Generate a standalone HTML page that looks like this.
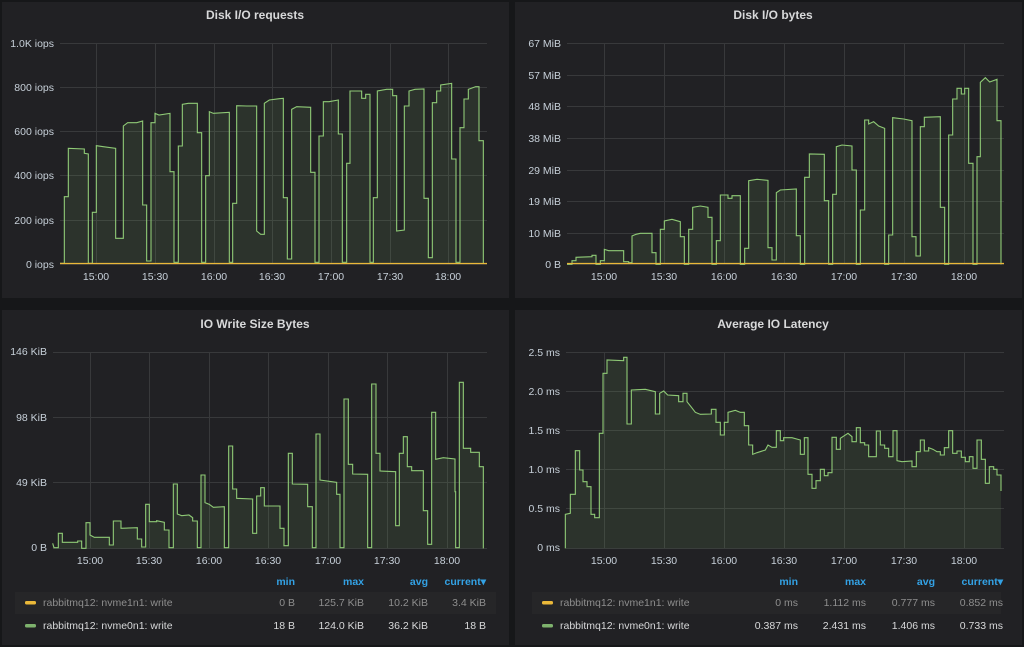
<!DOCTYPE html>
<html><head><meta charset="utf-8"><style>
html,body{margin:0;padding:0;background:#161719;width:1024px;height:647px;overflow:hidden}
svg{display:block;font-family:"Liberation Sans",sans-serif}
.t{fill:#d8d9da;font-size:12px;font-weight:bold;text-anchor:middle}
.ax{fill:#c7d0d9;font-size:10.5px}
.yl{text-anchor:end}
.xl{text-anchor:middle}
.g{stroke:#38393b;stroke-width:1}
.h{fill:#33a2e5;font-size:10.5px;font-weight:bold;text-anchor:end}
.v{fill:#d8d9da;font-size:10.5px;text-anchor:end}
.vd{fill:#8e8e8e;font-size:10.5px;text-anchor:end}
.n{fill:#d8d9da;font-size:10.5px}
.nd{fill:#8e8e8e;font-size:10.5px}
.ln{fill:none;stroke:#8fca76;stroke-width:3.3;stroke-linejoin:miter}
.fl{fill:rgba(126,178,109,0.12);stroke:none}
</style></head><body>
<svg width="1024" height="647" viewBox="0 0 1024 647">
<rect x="2" y="2" width="507" height="296" fill="#212124"/>
<rect x="515" y="2" width="507" height="296" fill="#212124"/>
<rect x="2" y="310" width="507" height="335" fill="#212124"/>
<rect x="515" y="310" width="507" height="335" fill="#212124"/>

<!-- Panel 1 -->
<text class="t" x="255" y="19">Disk I/O requests</text>
<g class="g">
<line x1="60" x2="487" y1="43.5" y2="43.5"/><line x1="60" x2="487" y1="87.5" y2="87.5"/><line x1="60" x2="487" y1="131.5" y2="131.5"/><line x1="60" x2="487" y1="175.5" y2="175.5"/><line x1="60" x2="487" y1="220.5" y2="220.5"/><line x1="60" x2="487" y1="264.5" y2="264.5"/>
<line x1="96.5" x2="96.5" y1="43" y2="264"/><line x1="155.5" x2="155.5" y1="43" y2="264"/><line x1="214.5" x2="214.5" y1="43" y2="264"/><line x1="272.5" x2="272.5" y1="43" y2="264"/><line x1="331.5" x2="331.5" y1="43" y2="264"/><line x1="390.5" x2="390.5" y1="43" y2="264"/><line x1="448.5" x2="448.5" y1="43" y2="264"/>
</g>
<g class="ax yl"><text x="54" y="47">1.0K iops</text><text x="54" y="91">800 iops</text><text x="54" y="135">600 iops</text><text x="54" y="179">400 iops</text><text x="54" y="224">200 iops</text><text x="54" y="268">0 iops</text></g>
<g class="ax xl"><text x="96" y="280">15:00</text><text x="155" y="280">15:30</text><text x="214" y="280">16:00</text><text x="272" y="280">16:30</text><text x="331" y="280">17:00</text><text x="390" y="280">17:30</text><text x="448" y="280">18:00</text></g>
<g transform="scale(0.33333)" class="s" data-b="790" data-d="180,790 193,790 193,590 205,590 205,445 253,447 253,460 265,462 265,790 277,790 277,637 289,637 289,437 310,440 347,445 347,715 370,715 370,378 383,368 410,368 428,363 428,615 440,615 440,783 453,783 453,368 465,368 465,340 477,345 510,340 510,515 522,515 522,787 535,787 535,438 547,438 547,313 565,310 592,310 592,398 605,398 605,787 617,787 617,527 628,527 628,335 640,340 688,337 688,787 698,787 698,610 710,610 710,317 740,318 770,318 770,693 782,703 793,703 793,310 808,300 838,296 850,295 850,593 862,593 862,777 875,777 875,328 890,320 932,322 932,517 945,517 945,787 957,787 957,408 970,408 970,305 987,305 1015,300 1015,402 1027,402 1027,787 1040,787 1040,490 1050,490 1050,273 1085,273 1085,295 1097,295 1097,283 1110,283 1110,787 1120,787 1120,593 1132,593 1132,273 1160,268 1178,268 1178,287 1190,287 1190,693 1213,690 1213,318 1227,318 1227,273 1245,268 1272,267 1272,595 1285,595 1285,773 1297,773 1297,308 1310,308 1310,273 1322,273 1322,255 1355,250 1355,477 1368,477 1368,787 1380,787 1380,383 1392,383 1392,297 1405,297 1405,268 1427,260 1437,260 1437,422 1450,422 1450,790"></g>
<line x1="60" x2="487" y1="263.5" y2="263.5" stroke="#eab839" stroke-width="1.2"/>

<!-- Panel 2 -->
<text class="t" x="773" y="19">Disk I/O bytes</text>
<g class="g">
<line x1="567" x2="1004" y1="43.5" y2="43.5"/><line x1="567" x2="1004" y1="75.5" y2="75.5"/><line x1="567" x2="1004" y1="106.5" y2="106.5"/><line x1="567" x2="1004" y1="138.5" y2="138.5"/><line x1="567" x2="1004" y1="170.5" y2="170.5"/><line x1="567" x2="1004" y1="201.5" y2="201.5"/><line x1="567" x2="1004" y1="233.5" y2="233.5"/><line x1="567" x2="1004" y1="264.5" y2="264.5"/>
<line x1="604.5" x2="604.5" y1="43" y2="264"/><line x1="664.5" x2="664.5" y1="43" y2="264"/><line x1="724.5" x2="724.5" y1="43" y2="264"/><line x1="784.5" x2="784.5" y1="43" y2="264"/><line x1="844.5" x2="844.5" y1="43" y2="264"/><line x1="904.5" x2="904.5" y1="43" y2="264"/><line x1="964.5" x2="964.5" y1="43" y2="264"/>
</g>
<g class="ax yl"><text x="561" y="47">67 MiB</text><text x="561" y="79">57 MiB</text><text x="561" y="110">48 MiB</text><text x="561" y="142">38 MiB</text><text x="561" y="174">29 MiB</text><text x="561" y="205">19 MiB</text><text x="561" y="237">10 MiB</text><text x="561" y="268">0 B</text></g>
<g class="ax xl"><text x="604" y="280">15:00</text><text x="664" y="280">15:30</text><text x="724" y="280">16:00</text><text x="784" y="280">16:30</text><text x="844" y="280">17:00</text><text x="904" y="280">17:30</text><text x="964" y="280">18:00</text></g>
<g transform="translate(512,0) scale(0.33333)" class="s" data-b="793" data-d="165,793 180,793 180,782 192,782 192,772 240,770 240,766 252,766 252,793 265,793 265,782 277,782 277,748 290,752 335,752 335,785 350,785 350,788 360,788 360,708 372,703 385,700 420,700 420,758 432,758 432,793 445,793 445,688 457,688 457,663 480,658 505,665 505,710 517,710 517,793 530,793 530,688 542,688 542,622 565,618 588,622 588,652 600,652 600,793 613,793 613,722 625,722 625,585 648,585 648,595 660,595 660,587 685,587 685,793 698,793 698,745 710,745 710,542 735,538 768,541 768,743 780,743 780,780 793,780 793,578 805,570 853,567 853,707 865,707 865,793 878,793 878,532 892,532 892,462 937,463 937,602 950,602 950,793 962,793 962,583 973,583 973,440 990,435 1020,438 1020,510 1033,510 1033,793 1045,793 1045,630 1058,630 1058,360 1070,360 1070,372 1085,365 1100,378 1118,385 1118,793 1130,793 1130,705 1142,705 1142,353 1175,357 1200,362 1200,710 1212,710 1212,768 1225,768 1225,380 1237,380 1237,352 1285,350 1285,622 1298,622 1298,793 1310,793 1310,405 1322,405 1322,297 1335,297 1335,265 1348,265 1348,282 1358,282 1358,265 1370,265 1370,490 1383,490 1383,793 1395,793 1395,470 1405,470 1405,247 1420,233 1433,246 1455,238 1455,362 1467,362 1467,793"></g>
<line x1="567" x2="1004" y1="263.5" y2="263.5" stroke="#eab839" stroke-width="1.2"/>

<!-- Panel 3 -->
<text class="t" x="255" y="328">IO Write Size Bytes</text>
<g class="g">
<line x1="53" x2="487" y1="352.5" y2="352.5"/><line x1="53" x2="487" y1="417.5" y2="417.5"/><line x1="53" x2="487" y1="482.5" y2="482.5"/><line x1="53" x2="487" y1="548.5" y2="548.5"/>
<line x1="90.5" x2="90.5" y1="352" y2="548"/><line x1="149.5" x2="149.5" y1="352" y2="548"/><line x1="209.5" x2="209.5" y1="352" y2="548"/><line x1="268.5" x2="268.5" y1="352" y2="548"/><line x1="328.5" x2="328.5" y1="352" y2="548"/><line x1="387.5" x2="387.5" y1="352" y2="548"/><line x1="447.5" x2="447.5" y1="352" y2="548"/>
</g>
<g class="ax yl"><text x="47" y="355">146 KiB</text><text x="47" y="421">98 KiB</text><text x="47" y="486">49 KiB</text><text x="47" y="551">0 B</text></g>
<g class="ax xl"><text x="90" y="564">15:00</text><text x="149" y="564">15:30</text><text x="209" y="564">16:00</text><text x="268" y="564">16:30</text><text x="328" y="564">17:00</text><text x="387" y="564">17:30</text><text x="447" y="564">18:00</text></g>
<g transform="translate(0,305) scale(0.33333)" class="s" data-b="730" data-d="158,715 162,728 175,728 175,685 187,685 187,712 233,712 233,708 245,708 245,730 258,730 258,653 270,653 270,690 283,697 328,697 328,720 340,720 340,648 363,648 363,670 412,668 412,702 425,702 425,726 437,726 437,598 448,598 448,650 470,650 470,647 493,652 493,675 507,675 507,728 520,728 520,537 532,537 532,627 545,632 567,630 578,638 578,648 592,648 592,728 603,728 603,510 615,510 615,593 628,598 640,607 673,605 673,728 686,728 686,423 698,423 698,552 710,552 710,580 758,582 758,685 770,685 770,573 782,573 782,548 793,548 793,603 840,603 840,670 852,670 852,722 865,722 865,445 877,445 877,537 923,538 923,605 937,605 937,728 948,728 948,387 960,387 960,525 1010,532 1010,568 1020,568 1020,728 1032,728 1032,282 1045,282 1045,478 1058,478 1058,507 1103,508 1103,728 1115,728 1115,237 1128,237 1128,445 1140,445 1140,498 1187,500 1187,662 1198,662 1198,445 1210,445 1210,395 1222,395 1222,485 1235,485 1235,497 1270,497 1270,617 1283,617 1283,718 1295,718 1295,322 1307,322 1307,463 1330,458 1365,462 1365,560 1367,560 1367,728 1378,728 1378,232 1390,232 1390,430 1412,430 1412,442 1438,442 1438,485 1450,485 1450,730"></g>

<!-- Panel 4 -->
<text class="t" x="773" y="328">Average IO Latency</text>
<g class="g">
<line x1="566" x2="1004" y1="352.5" y2="352.5"/><line x1="566" x2="1004" y1="391.5" y2="391.5"/><line x1="566" x2="1004" y1="430.5" y2="430.5"/><line x1="566" x2="1004" y1="469.5" y2="469.5"/><line x1="566" x2="1004" y1="508.5" y2="508.5"/><line x1="566" x2="1004" y1="548.5" y2="548.5"/>
<line x1="604.5" x2="604.5" y1="352" y2="548"/><line x1="664.5" x2="664.5" y1="352" y2="548"/><line x1="724.5" x2="724.5" y1="352" y2="548"/><line x1="784.5" x2="784.5" y1="352" y2="548"/><line x1="844.5" x2="844.5" y1="352" y2="548"/><line x1="904.5" x2="904.5" y1="352" y2="548"/><line x1="964.5" x2="964.5" y1="352" y2="548"/>
</g>
<g class="ax yl"><text x="560" y="356">2.5 ms</text><text x="560" y="395">2.0 ms</text><text x="560" y="434">1.5 ms</text><text x="560" y="473">1.0 ms</text><text x="560" y="512">0.5 ms</text><text x="560" y="551">0 ms</text></g>
<g class="ax xl"><text x="604" y="564">15:00</text><text x="664" y="564">15:30</text><text x="724" y="564">16:00</text><text x="784" y="564">16:30</text><text x="844" y="564">17:00</text><text x="904" y="564">17:30</text><text x="964" y="564">18:00</text></g>
<g transform="translate(512,305) scale(0.33333)" class="s" data-b="730" data-d="160,730 160,628 175,625 175,568 190,568 190,437 203,437 203,495 213,495 213,530 225,530 225,545 237,545 237,628 248,628 248,638 262,638 262,385 273,385 273,205 285,205 285,165 335,167 335,157 345,157 345,357 358,357 358,255 400,253 430,260 430,327 443,327 443,265 455,258 467,270 500,272 500,290 513,290 513,265 525,265 525,290 537,305 550,322 565,328 598,327 598,313 612,313 612,352 625,352 625,390 637,390 637,352 648,352 648,322 670,316 685,322 697,322 697,362 710,362 710,420 722,420 722,448 735,443 760,435 768,420 780,427 793,427 793,377 805,377 805,407 815,407 815,398 840,398 865,405 865,448 877,448 877,398 888,398 888,508 900,508 900,550 912,550 912,527 925,527 925,493 937,493 937,512 948,512 948,503 960,503 960,397 973,397 973,433 985,433 985,400 1008,385 1020,395 1020,410 1033,410 1033,368 1045,368 1045,413 1058,413 1058,420 1070,420 1070,455 1093,455 1093,378 1105,378 1105,420 1118,420 1118,430 1130,430 1130,455 1143,455 1143,377 1155,377 1155,467 1170,470 1200,468 1200,485 1213,485 1213,440 1225,440 1225,405 1237,405 1237,438 1250,438 1250,428 1263,433 1275,440 1285,440 1285,450 1297,450 1297,428 1310,428 1310,377 1322,377 1322,445 1335,445 1335,438 1348,438 1348,457 1360,457 1360,470 1372,470 1372,455 1383,455 1383,490 1395,490 1395,405 1408,405 1408,463 1420,463 1420,535 1432,535 1432,485 1445,485 1445,493 1455,493 1455,510 1467,510 1467,558"></g>

<!-- Legend 3 -->
<text class="h" x="295" y="585">min</text><text class="h" x="364" y="585">max</text><text class="h" x="428" y="585">avg</text><text class="h" x="486" y="585">current▾</text>
<rect x="15" y="592" width="481" height="22" fill="#262628"/>
<rect x="25" y="601" width="11" height="3.5" rx="1.5" fill="#eab839"/>
<text class="nd" x="43" y="606">rabbitmq12: nvme1n1: write</text>
<text class="vd" x="295" y="606">0 B</text><text class="vd" x="364" y="606">125.7 KiB</text><text class="vd" x="428" y="606">10.2 KiB</text><text class="vd" x="486" y="606">3.4 KiB</text>
<rect x="25" y="624" width="11" height="3.5" rx="1.5" fill="#7eb26d"/>
<text class="n" x="43" y="629">rabbitmq12: nvme0n1: write</text>
<text class="v" x="295" y="629">18 B</text><text class="v" x="364" y="629">124.0 KiB</text><text class="v" x="428" y="629">36.2 KiB</text><text class="v" x="486" y="629">18 B</text>

<!-- Legend 4 -->
<text class="h" x="798" y="585">min</text><text class="h" x="866" y="585">max</text><text class="h" x="935" y="585">avg</text><text class="h" x="1003" y="585">current▾</text>
<rect x="532" y="592" width="469" height="22" fill="#262628"/>
<rect x="542" y="601" width="11" height="3.5" rx="1.5" fill="#eab839"/>
<text class="nd" x="560" y="606">rabbitmq12: nvme1n1: write</text>
<text class="vd" x="798" y="606">0 ms</text><text class="vd" x="866" y="606">1.112 ms</text><text class="vd" x="935" y="606">0.777 ms</text><text class="vd" x="1003" y="606">0.852 ms</text>
<rect x="542" y="624" width="11" height="3.5" rx="1.5" fill="#7eb26d"/>
<text class="n" x="560" y="629">rabbitmq12: nvme0n1: write</text>
<text class="v" x="798" y="629">0.387 ms</text><text class="v" x="866" y="629">2.431 ms</text><text class="v" x="935" y="629">1.406 ms</text><text class="v" x="1003" y="629">0.733 ms</text>
</svg>
<script>
document.querySelectorAll('g.s').forEach(function(g){
  var pts=g.getAttribute('data-d').trim().split(/\s+/);
  var b=g.getAttribute('data-b');
  var d='M'+pts.join(' L');
  var f=pts[0].split(','),l=pts[pts.length-1].split(',');
  var ns='http://www.w3.org/2000/svg';
  var p1=document.createElementNS(ns,'path');
  p1.setAttribute('d',d+' L'+l[0]+','+b+' L'+f[0]+','+b+' Z');
  p1.setAttribute('class','fl');
  var p2=document.createElementNS(ns,'path');
  p2.setAttribute('d',d);
  p2.setAttribute('class','ln');
  g.appendChild(p1);g.appendChild(p2);
});
</script>
</body></html>
